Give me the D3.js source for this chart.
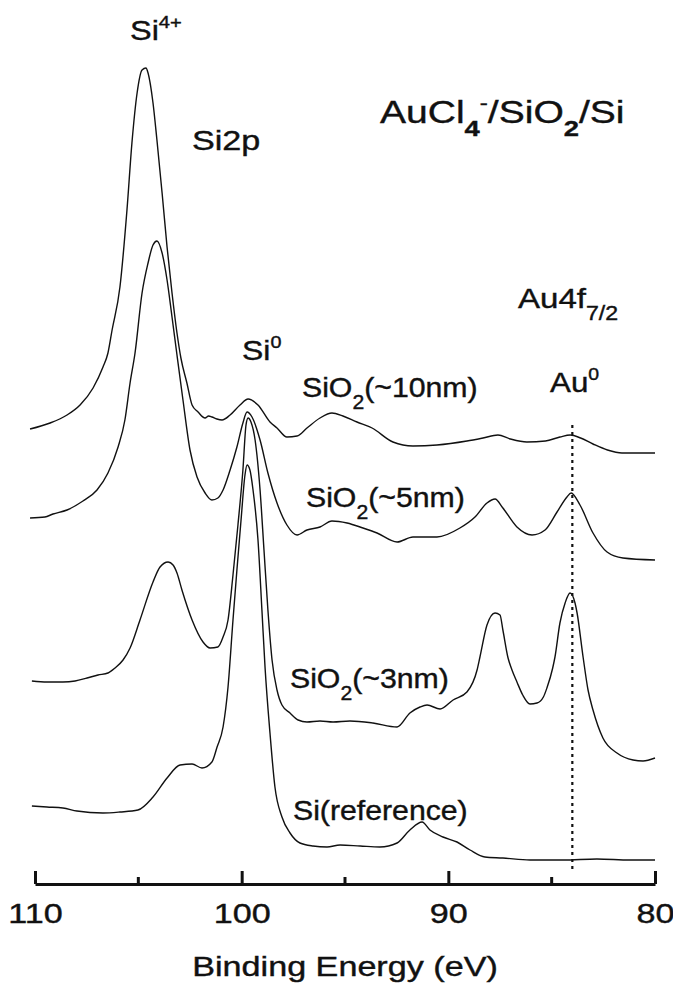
<!DOCTYPE html>
<html>
<head>
<meta charset="utf-8">
<script src="https://cdn.jsdelivr.net/npm/d3@7"></script>
<style>
  body { margin: 0; background: #fff; }
  svg { display: block; font-family: "Liberation Sans", Arial, Helvetica, sans-serif; }
</style>
</head>
<body>
<svg id="chart" width="673" height="987"></svg>
<script>
// XPS Si2p / Au4f spectra, AuCl4- on SiO2/Si, offset vertically
// [binding energy (eV), intensity (a.u., stacked)]
const sio2_10nm = [
  [110.24, 455], [109.27, 461], [108.45, 469], [107.82, 479], [107.19, 496], [106.71, 517],
  [106.47, 531], [106.27, 554], [105.89, 597], [105.55, 674], [105.31, 741], [105.06, 791],
  [104.82, 814], [104.63, 816], [104.53, 811], [104.29, 781], [104.10, 744], [103.85, 691],
  [103.61, 637], [103.37, 591], [103.13, 551], [102.94, 526], [102.65, 501], [102.40, 479],
  [102.11, 472], [101.77, 466], [101.60, 468], [101.44, 467], [101.20, 465], [100.95, 464],
  [100.56, 469], [100.08, 479], [99.69, 485], [99.21, 479], [98.63, 462], [98.29, 456],
  [97.81, 447], [97.32, 448], [96.84, 456], [96.21, 466], [95.63, 471], [95.10, 468],
  [94.42, 462], [93.69, 456], [92.68, 442], [91.71, 438], [90.55, 439], [89.10, 443],
  [88.32, 446], [87.60, 449], [87.00, 445], [86.20, 442], [85.30, 443], [84.60, 447],
  [84.10, 449], [83.60, 446], [83.00, 440], [82.30, 434], [81.60, 431], [80.00, 431]
];
const sio2_5nm = [
  [110.24, 366], [109.52, 367], [109.13, 370], [108.45, 374], [107.68, 383], [107.00, 394],
  [106.47, 411], [105.98, 437], [105.65, 464], [105.40, 501], [105.16, 531], [104.82, 591],
  [104.53, 621], [104.29, 639], [104.10, 643], [103.85, 631], [103.61, 604], [103.37, 567],
  [103.13, 529], [102.84, 484], [102.50, 434], [102.16, 407], [101.77, 391], [101.44, 384],
  [101.15, 386], [100.90, 394], [100.56, 414], [100.23, 437], [99.94, 461], [99.74, 472],
  [99.50, 467], [99.11, 444], [98.73, 411], [98.29, 381], [97.81, 359], [97.32, 349],
  [96.84, 354], [96.21, 357], [95.63, 363], [94.90, 361], [94.13, 356], [93.45, 351],
  [92.48, 342], [91.71, 347], [90.55, 347], [89.44, 356], [88.71, 367], [88.13, 381],
  [87.74, 385], [87.36, 376], [86.68, 357], [85.95, 349], [85.32, 354], [84.74, 372],
  [84.26, 387], [84.06, 391], [83.63, 379], [83.00, 351], [82.32, 332], [81.55, 326],
  [80.00, 324]
];
const sio2_3nm = [
  [110.15, 203], [109.42, 202], [108.65, 202], [108.06, 203], [107.48, 206], [106.95, 209],
  [106.47, 211], [106.13, 216], [105.74, 224], [105.40, 236], [104.92, 264], [104.29, 302],
  [103.95, 317], [103.56, 322], [103.32, 319], [103.13, 311], [102.89, 294], [102.40, 264],
  [101.87, 242], [101.53, 236], [101.15, 237], [100.90, 247], [100.66, 264], [100.42, 309],
  [100.18, 359], [99.94, 414], [99.79, 459], [99.69, 466], [99.55, 462], [99.35, 444],
  [99.11, 394], [98.92, 334], [98.73, 274], [98.53, 224], [98.29, 194], [98.05, 179],
  [97.66, 171], [97.27, 164], [96.84, 162], [96.21, 163], [95.58, 162], [94.76, 163],
  [93.65, 161], [92.48, 157], [91.86, 171], [91.37, 177], [91.03, 179], [90.40, 175],
  [89.77, 184], [89.10, 192], [88.61, 214], [88.47, 227], [88.13, 259], [87.74, 271],
  [87.50, 269], [87.36, 254], [87.11, 226], [86.92, 214], [86.68, 202], [86.40, 189],
  [86.05, 180], [85.71, 181], [85.40, 187], [85.23, 196], [84.95, 216], [84.84, 227],
  [84.60, 261], [84.35, 281], [84.11, 291], [83.87, 281], [83.77, 271], [83.48, 227],
  [83.24, 194], [83.00, 174], [82.52, 146], [81.84, 131], [81.06, 124], [80.58, 123],
  [80.00, 126]
];
const si_reference = [
  [110.15, 78], [109.42, 77], [108.65, 76], [107.97, 73], [106.71, 71], [105.89, 72],
  [105.02, 74], [104.29, 87], [103.61, 106], [102.98, 119], [102.40, 120], [101.92, 116],
  [101.44, 122], [101.19, 137], [100.90, 157], [100.66, 197], [100.42, 264], [100.23, 314],
  [100.03, 364], [99.84, 409], [99.74, 419], [99.60, 414], [99.45, 394], [99.21, 344],
  [99.02, 274], [98.87, 217], [98.63, 151], [98.39, 97], [98.05, 67], [97.66, 51],
  [97.18, 41], [96.55, 38], [95.87, 37], [95.24, 39], [94.27, 38], [93.31, 37],
  [92.48, 41], [91.86, 54], [91.27, 62], [90.89, 54], [90.26, 47], [89.58, 42],
  [88.95, 34], [88.23, 27], [87.36, 26], [86.05, 24], [84.45, 24], [82.81, 25],
  [81.21, 24], [80.00, 24]
];
const spectra = [sio2_10nm, sio2_5nm, sio2_3nm, si_reference];

const majorTicks = [110, 100, 90, 80];
const minorTicks = [105, 95, 85];
const au0Energy = 84.0;          // Au4f7/2 metallic position
const au0LineRange = [12, 459];  // a.u., extent of the dotted guide

const svg = d3.select("#chart");
const wide = 1.22;   // glyphs in the figure are wider than Arial
const narrow = 1.08; // the per-spectrum labels less so

const x = d3.scaleLinear().domain([110, 80]).range([35, 655]);
const y = d3.scaleLinear().domain([0, 820]).range([884, 64]);

const line = d3.line()
  .x(d => x(d[0]))
  .y(d => y(d[1]))
  .curve(d3.curveMonotoneX);

svg.append("g")
  .selectAll("path")
  .data(spectra)
  .join("path")
  .attr("fill", "none")
  .attr("stroke", "#111")
  .attr("stroke-width", 1.4)
  .attr("stroke-linejoin", "round")
  .attr("d", line);

// dotted guide at Au0
svg.append("line")
  .attr("x1", x(au0Energy)).attr("x2", x(au0Energy))
  .attr("y1", y(au0LineRange[1])).attr("y2", y(au0LineRange[0]))
  .attr("stroke", "#111")
  .attr("stroke-width", 2.2)
  .attr("stroke-dasharray", "3,4");

// x axis, ticks pointing up
const axis = svg.append("g")
  .attr("transform", `translate(0,${y(0)})`)
  .call(d3.axisBottom(x).tickValues(majorTicks).tickSize(-13).tickSizeOuter(0).tickPadding(19)
    .tickFormat(d3.format("d")));
axis.select(".domain").attr("stroke", "#111").attr("stroke-width", 3);
axis.selectAll(".tick line").attr("stroke", "#111").attr("stroke-width", 3);
axis.selectAll(".tick text")
  .attr("fill", "#111")
  .attr("stroke", "#111")
  .attr("stroke-width", 0.4)
  .attr("font-size", 28)
  .attr("font-family", "Liberation Sans, Arial, sans-serif")
  .attr("transform", `scale(${wide},1)`);

svg.append("g")
  .selectAll("line")
  .data(minorTicks)
  .join("line")
  .attr("x1", d => x(d)).attr("x2", d => x(d))
  .attr("y1", y(0)).attr("y2", y(0) - 7)
  .attr("stroke", "#111")
  .attr("stroke-width", 3);

svg.append("text")
  .attr("transform", `translate(345,976) scale(${wide},1)`)
  .attr("text-anchor", "middle")
  .attr("font-size", 28)
  .attr("fill", "#111")
  .attr("stroke", "#111")
  .attr("stroke-width", 0.4)
  .text("Binding Energy (eV)");

// labels with sub/superscripts
function richLabel(px, py, parts, size, sx) {
  const t = svg.append("text")
    .attr("transform", `translate(${px},${py}) scale(${sx},1)`)
    .attr("font-size", size)
    .attr("fill", "#111")
    .attr("stroke", "#111")
    .attr("stroke-width", 0.4);
  let off = 0;
  parts.forEach(([s, kind]) => {
    let target = 0, fs = size, fw = null;
    if (kind === "sub" || kind === "subb") { target = size * 0.42; fs = size * 0.7; }
    if (kind === "sup") { target = -size * 0.42; fs = size * 0.62; }
    if (kind === "subb") fw = "bold";
    t.append("tspan")
      .attr("dy", target - off)
      .attr("font-size", fs)
      .attr("font-weight", fw)
      .text(s);
    off = target;
  });
}

richLabel(130, 40, [["Si"], ["4+", "sup"]], 28, 1.16);
richLabel(192, 150, [["Si2p"]], 28, wide);
richLabel(380, 123, [["AuCl"], ["4", "subb"], ["-", "sup"], ["/SiO"], ["2", "subb"], ["/Si"]], 32, wide);
richLabel(518, 308, [["Au4f"], ["7/2", "sub"]], 28, 1.18);
richLabel(242, 360, [["Si"], ["0", "sup"]], 28, 1.14);
richLabel(550, 392, [["Au"], ["0", "sup"]], 28, 1.12);
richLabel(302, 397, [["SiO"], ["2", "sub"], ["(~10nm)"]], 28, narrow);
richLabel(306, 507, [["SiO"], ["2", "sub"], ["(~5nm)"]], 28, narrow);
richLabel(290, 688, [["SiO"], ["2", "sub"], ["(~3nm)"]], 28, narrow);
richLabel(293, 820, [["Si(reference)"]], 28, narrow);
</script>
</body>
</html>
